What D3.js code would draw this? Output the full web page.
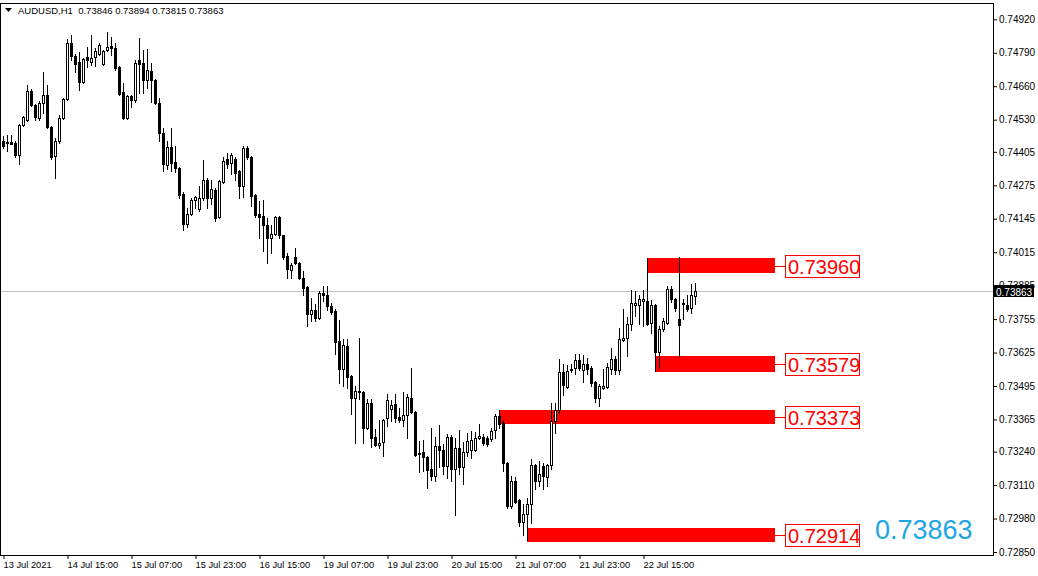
<!DOCTYPE html>
<html><head><meta charset="utf-8">
<script src="https://cdn.jsdelivr.net/npm/d3@7"></script>
<style>
html,body{margin:0;padding:0;background:#fff;overflow:hidden;}
svg{display:block;}
text{font-family:"Liberation Sans",Arial,sans-serif;}
</style></head><body>
<svg id="c" width="1038" height="576"></svg>
<script>
// ---------------- DATA ----------------
const symbolTitle = "AUDUSD,H1";
const lastOHLC = ["0.73846", "0.73894", "0.73815", "0.73863"];

const opens = [0.74449,0.74445,0.74445,0.74441,0.74391,0.74511,0.74527,0.74640,0.74586,0.74535,
0.74593,0.74625,0.74500,0.74387,0.74449,0.74535,0.74609,0.74827,0.74776,0.74756,
0.74675,0.74772,0.74756,0.74772,0.74787,0.74748,0.74799,0.74815,0.74807,0.74733,
0.74636,0.74535,0.74621,0.74605,0.74760,0.74752,0.74683,0.74718,0.74683,0.74593,
0.74480,0.74355,0.74422,0.74367,0.74344,0.74243,0.74126,0.74165,0.74216,0.74181,
0.74224,0.74294,0.74224,0.74255,0.74150,0.74286,0.74379,0.74363,0.74379,0.74332,
0.74274,0.74418,0.74383,0.74236,0.74165,0.74154,0.74119,0.74072,0.74087,0.74150,
0.74080,0.74002,0.73947,0.73998,0.73974,0.73916,0.73881,0.73776,0.73792,0.73761,
0.73858,0.73847,0.73804,0.73788,0.73671,0.73562,0.73652,0.73535,0.73449,0.73472,
0.73472,0.73333,0.73430,0.73298,0.73267,0.73278,0.73372,0.73407,0.73426,0.73376,
0.73364,0.73383,0.73449,0.73395,0.73235,0.73239,0.73220,0.73173,0.73146,0.73263,
0.73247,0.73185,0.73298,0.73173,0.73255,0.73181,0.73239,0.73247,0.73247,0.73294,
0.73298,0.73294,0.73290,0.73325,0.73379,0.73352,0.73196,0.73029,0.73126,0.73052,
0.72967,0.72998,0.73037,0.73189,0.73126,0.73185,0.73142,0.73189,0.73360,0.73403,
0.73550,0.73492,0.73558,0.73566,0.73597,0.73558,0.73581,0.73566,0.73511,0.73449,
0.73488,0.73492,0.73562,0.73601,0.73558,0.73675,0.73683,0.73737,0.73811,0.73811,
0.73827,0.73827,0.73741,0.73808,0.73628,0.73718,0.73741,0.73873,0.73835,0.73757,
0.73815,0.73811,0.73800,0.73846];

const highs = [0.74465,0.74469,0.74469,0.74449,0.74515,0.74543,0.74664,0.74648,0.74590,0.74601,
0.74714,0.74664,0.74507,0.74457,0.74547,0.74613,0.74842,0.74858,0.74787,0.74791,
0.74768,0.74811,0.74858,0.74807,0.74827,0.74799,0.74869,0.74850,0.74827,0.74737,
0.74671,0.74625,0.74625,0.74760,0.74846,0.74799,0.74803,0.74752,0.74687,0.74613,
0.74496,0.74449,0.74496,0.74426,0.74348,0.74247,0.74188,0.74224,0.74232,0.74274,
0.74375,0.74302,0.74294,0.74263,0.74294,0.74383,0.74399,0.74399,0.74383,0.74336,
0.74426,0.74426,0.74387,0.74240,0.74212,0.74216,0.74146,0.74122,0.74157,0.74157,
0.74083,0.74010,0.73974,0.74033,0.73978,0.73943,0.73885,0.73838,0.73815,0.73866,
0.73885,0.73885,0.73819,0.73796,0.73753,0.73679,0.73679,0.73539,0.73496,0.73683,
0.73476,0.73445,0.73445,0.73329,0.73364,0.73368,0.73465,0.73441,0.73465,0.73410,
0.73472,0.73465,0.73566,0.73399,0.73282,0.73286,0.73224,0.73333,0.73298,0.73345,
0.73271,0.73309,0.73306,0.73294,0.73325,0.73278,0.73313,0.73321,0.73317,0.73348,
0.73309,0.73302,0.73333,0.73387,0.73403,0.73360,0.73200,0.73146,0.73142,0.73056,
0.73037,0.73060,0.73212,0.73193,0.73204,0.73196,0.73193,0.73430,0.73430,0.73601,
0.73581,0.73577,0.73581,0.73620,0.73620,0.73616,0.73605,0.73573,0.73515,0.73504,
0.73562,0.73585,0.73644,0.73612,0.73722,0.73796,0.73765,0.73870,0.73866,0.73847,
0.73870,0.73992,0.73831,0.73815,0.73730,0.73761,0.73885,0.73885,0.73838,0.73996,
0.73835,0.73847,0.73892,0.73894];

const lows = [0.74418,0.74410,0.74434,0.74383,0.74359,0.74507,0.74523,0.74582,0.74527,0.74527,
0.74554,0.74496,0.74379,0.74305,0.74441,0.74531,0.74605,0.74760,0.74714,0.74644,
0.74671,0.74733,0.74741,0.74737,0.74783,0.74744,0.74795,0.74780,0.74722,0.74625,
0.74531,0.74531,0.74578,0.74597,0.74632,0.74632,0.74652,0.74597,0.74590,0.74449,
0.74332,0.74340,0.74332,0.74328,0.74224,0.74103,0.74111,0.74161,0.74185,0.74177,
0.74216,0.74188,0.74204,0.74138,0.74146,0.74282,0.74344,0.74320,0.74294,0.74224,
0.74228,0.74379,0.74196,0.74150,0.74072,0.74021,0.73974,0.74010,0.74080,0.74072,
0.73990,0.73916,0.73916,0.73970,0.73912,0.73850,0.73730,0.73749,0.73749,0.73757,
0.73827,0.73792,0.73776,0.73620,0.73508,0.73496,0.73488,0.73387,0.73274,0.73445,
0.73274,0.73329,0.73259,0.73263,0.73255,0.73224,0.73341,0.73360,0.73356,0.73356,
0.73341,0.73294,0.73391,0.73224,0.73161,0.73165,0.73099,0.73130,0.73126,0.73181,
0.73154,0.73138,0.73126,0.72994,0.73154,0.73115,0.73224,0.73216,0.73243,0.73290,
0.73267,0.73263,0.73282,0.73294,0.73333,0.73165,0.73021,0.73021,0.73040,0.72951,
0.72916,0.72895,0.72963,0.73095,0.73107,0.73095,0.73107,0.73173,0.73313,0.73387,
0.73461,0.73488,0.73550,0.73543,0.73558,0.73511,0.73543,0.73496,0.73434,0.73418,
0.73484,0.73488,0.73543,0.73543,0.73543,0.73671,0.73612,0.73714,0.73768,0.73737,
0.73730,0.73733,0.73702,0.73552,0.73566,0.73710,0.73737,0.73823,0.73788,0.73609,
0.73757,0.73788,0.73780,0.73815];

const closes = [0.74426,0.74441,0.74437,0.74391,0.74511,0.74539,0.74640,0.74586,0.74539,0.74593,
0.74625,0.74500,0.74383,0.74449,0.74535,0.74609,0.74827,0.74776,0.74748,0.74675,
0.74764,0.74760,0.74768,0.74795,0.74819,0.74795,0.74811,0.74807,0.74729,0.74629,
0.74535,0.74621,0.74605,0.74752,0.74748,0.74683,0.74722,0.74683,0.74593,0.74480,
0.74359,0.74422,0.74363,0.74344,0.74236,0.74126,0.74165,0.74216,0.74228,0.74224,
0.74294,0.74224,0.74259,0.74146,0.74290,0.74371,0.74359,0.74391,0.74324,0.74274,
0.74418,0.74383,0.74232,0.74161,0.74150,0.74119,0.74072,0.74087,0.74150,0.74080,
0.73998,0.73951,0.73967,0.73974,0.73916,0.73877,0.73776,0.73792,0.73761,0.73858,
0.73847,0.73804,0.73784,0.73667,0.73562,0.73655,0.73531,0.73449,0.73476,0.73476,
0.73333,0.73430,0.73294,0.73267,0.73274,0.73364,0.73441,0.73422,0.73372,0.73364,
0.73383,0.73453,0.73395,0.73228,0.73231,0.73220,0.73169,0.73146,0.73263,0.73247,
0.73185,0.73298,0.73173,0.73255,0.73181,0.73239,0.73282,0.73286,0.73294,0.73302,
0.73274,0.73271,0.73321,0.73379,0.73348,0.73196,0.73029,0.73126,0.73044,0.72967,
0.72998,0.73037,0.73189,0.73126,0.73154,0.73146,0.73189,0.73360,0.73403,0.73550,
0.73500,0.73554,0.73562,0.73597,0.73566,0.73581,0.73562,0.73508,0.73449,0.73496,
0.73496,0.73570,0.73601,0.73558,0.73679,0.73683,0.73737,0.73819,0.73819,0.73835,
0.73835,0.73737,0.73811,0.73628,0.73718,0.73749,0.73873,0.73835,0.73800,0.73733,
0.73819,0.73796,0.73847,0.73863];

const timeTickIndex = [0, 16, 32, 48, 64, 80, 96, 112, 128, 144, 160];
const timeLabels = ["13 Jul 2021", "14 Jul 15:00", "15 Jul 07:00", "15 Jul 23:00", "16 Jul 15:00",
  "19 Jul 07:00", "19 Jul 23:00", "20 Jul 15:00", "21 Jul 07:00", "21 Jul 23:00", "22 Jul 15:00"];

const priceTicks = [0.74920, 0.74790, 0.74660, 0.74530, 0.74405, 0.74275, 0.74145, 0.74015, 0.73885,
  0.73755, 0.73625, 0.73495, 0.73365, 0.73240, 0.73110, 0.72980, 0.72850];

const bidPrice = 0.73863;
const bigPriceText = "0.73863";

const zoneTop = [0.73991, 0.73612, 0.73402, 0.72942];
const zoneBottom = [0.73933, 0.73551, 0.73346, 0.72887];
const zoneStartIndex = [161, 163, 124, 131];
const zoneEndIndex = 193;
const zoneLabels = ["0.73960", "0.73579", "0.73373", "0.72914"];

// ---------------- CHART ----------------
const svg = d3.select("#c");
const plotL = 0.5, plotT = 3.5, plotR = 993.5, plotB = 555.5;

const x = d3.scaleLinear().domain([0, 1]).range([3.5, 7.5]);
const y = d3.scaleLinear().domain([0.72850, 0.74920]).range([552, 19.3]);

const candles = opens.map((o, i) => ({i, o, h: highs[i], l: lows[i], c: closes[i]}));

// zones (background)
const zg = svg.append("g");
zoneTop.forEach((t, k) => {
  const x0 = x(zoneStartIndex[k]) - 0.5, x1 = x(zoneEndIndex) - 0.5;
  const y0 = Math.round(y(t)), y1 = Math.round(y(zoneBottom[k]));
  zg.append("rect").attr("x", x0).attr("y", y0).attr("width", x1 - x0).attr("height", y1 - y0)
    .attr("fill", "#ff0000");
});

// bid line
const by = Math.round(y(bidPrice)) + 0.5;
svg.append("line").attr("x1", plotL).attr("x2", plotR).attr("y1", by).attr("y2", by)
  .attr("stroke", "#c0c0c0").attr("stroke-width", 1);

// candles
const cg = svg.append("g");
candles.forEach(d => {
  const cx = x(d.i);
  const yh = Math.round(y(d.h)), yl = Math.round(y(d.l));
  cg.append("line").attr("x1", cx).attr("x2", cx).attr("y1", yh).attr("y2", yl + 1)
    .attr("stroke", "#000").attr("stroke-width", 1);
  const yo = Math.round(y(d.o)), yc = Math.round(y(d.c));
  const top = Math.min(yo, yc), bot = Math.max(yo, yc);
  if (d.c >= d.o) {
    if (bot - top < 1) {
      cg.append("rect").attr("x", cx - 1.5).attr("y", top).attr("width", 3).attr("height", 1).attr("fill", "#000");
    } else {
      cg.append("rect").attr("x", cx - 1).attr("y", top + 0.5).attr("width", 2).attr("height", bot - top)
        .attr("fill", "#fff").attr("stroke", "#000").attr("stroke-width", 1);
    }
  } else {
    cg.append("rect").attr("x", cx - 1.5).attr("y", top).attr("width", 3).attr("height", Math.max(1, bot - top + 1))
      .attr("fill", "#000");
  }
});

// zone labels
zoneTop.forEach((t, k) => {
  const yc = Math.round(y((t + zoneBottom[k]) / 2)) + 0.5;
  const xe = x(zoneEndIndex) - 0.5;
  svg.append("line").attr("x1", xe).attr("x2", 785.5).attr("y1", yc).attr("y2", yc)
    .attr("stroke", "#ff0000").attr("stroke-width", 1);
  svg.append("rect").attr("x", 785.5).attr("y", yc - 11).attr("width", 74).attr("height", 22)
    .attr("fill", "#fff").attr("stroke", "#ff0000").attr("stroke-width", 1);
  svg.append("text").attr("x", 788).attr("y", yc + 7).attr("font-size", 20).attr("fill", "#ff0000")
    .text(zoneLabels[k]);
});

// big price text
svg.append("text").attr("x", 875).attr("y", 539).attr("font-size", 27).attr("fill", "#1ea5e6")
  .text(bigPriceText);

// frame
svg.append("rect").attr("x", plotL).attr("y", plotT).attr("width", plotR - plotL).attr("height", plotB - plotT)
  .attr("fill", "none").attr("stroke", "#000").attr("stroke-width", 1);

// price axis
const ya = svg.append("g").attr("transform", `translate(${plotR - 0.5},0)`)
  .call(d3.axisRight(y).tickValues(priceTicks).tickSize(4).tickPadding(2).tickFormat(d3.format(".5f")));
ya.select(".domain").remove();
ya.selectAll("text").attr("font-size", 10).attr("font-family", '"Liberation Sans",Arial,sans-serif').attr("fill", "#000");
ya.selectAll("line").attr("stroke", "#000");

// bid label on axis
svg.append("rect").attr("x", 994).attr("y", by - 6.5).attr("width", 40).attr("height", 12).attr("fill", "#000");
svg.append("text").attr("x", 996).attr("y", by + 4).attr("font-size", 10).attr("fill", "#fff").text(bidPrice.toFixed(5));

// time axis
const xa = svg.append("g").attr("transform", `translate(0,${plotB - 0.5})`)
  .call(d3.axisBottom(x).tickValues(timeTickIndex).tickSize(4).tickPadding(2).tickFormat((d, i) => timeLabels[i]));
xa.select(".domain").remove();
xa.selectAll("text").attr("text-anchor", "start").attr("dx", -0.5).attr("font-size", 9.3)
  .attr("font-family", '"Liberation Sans",Arial,sans-serif').attr("fill", "#000");
xa.selectAll("line").attr("stroke", "#000");

// header
svg.append("path").attr("d", "M5,8 L12,8 L8.5,12 Z").attr("fill", "#000");
svg.append("text").attr("x", 18).attr("y", 14).attr("font-size", 9.5).attr("fill", "#000")
  .style("white-space", "pre").attr("xml:space", "preserve")
  .text(symbolTitle + "  " + lastOHLC.join(" "));
</script>
</body></html>
